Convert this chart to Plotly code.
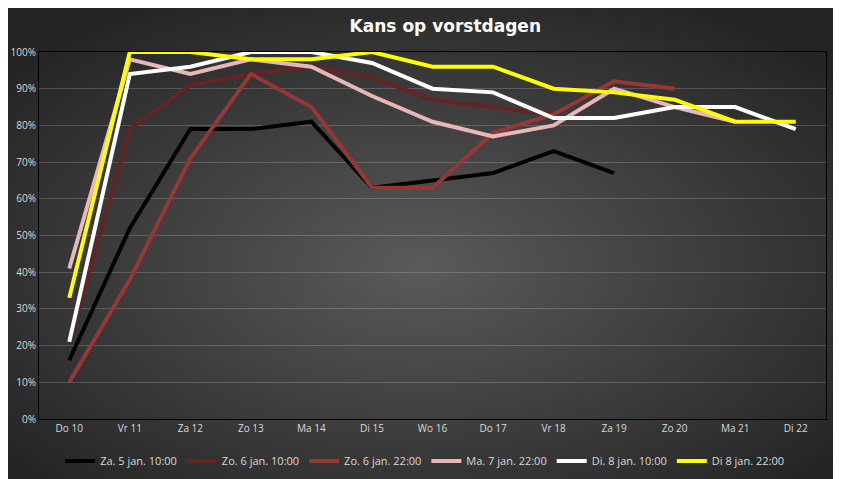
import base64
import plotly.graph_objs as go

# data
days = ["Do 10", "Vr 11", "Za 12", "Zo 13", "Ma 14", "Di 15", "Wo 16",
        "Do 17", "Vr 18", "Za 19", "Zo 20", "Ma 21", "Di 22"]

za5_1000 = [0.16, 0.52, 0.79, 0.79, 0.81, 0.63, 0.65, 0.67, 0.73, 0.67, None, None, None]
zo6_1000 = [0.21, 0.79, 0.91, 0.94, 0.96, 0.93, 0.87, 0.85, 0.83, 0.92, 0.90, None, None]
zo6_2200 = [0.10, 0.38, 0.71, 0.94, 0.85, 0.63, 0.63, 0.78, 0.83, 0.92, 0.90, None, None]
ma7_2200 = [0.41, 0.98, 0.94, 0.98, 0.96, 0.88, 0.81, 0.77, 0.80, 0.90, 0.85, 0.81, None]
di8_1000 = [0.21, 0.94, 0.96, 1.00, 1.00, 0.97, 0.90, 0.89, 0.82, 0.82, 0.85, 0.85, 0.79]
di8_2200 = [0.33, 1.00, 1.00, 0.98, 0.98, 1.00, 0.96, 0.96, 0.90, 0.89, 0.87, 0.81, 0.81]

series = [
    ("Za. 5 jan. 10:00", za5_1000, "#000000"),
    ("Zo. 6 jan. 10:00", zo6_1000, "#632523"),
    ("Zo. 6 jan. 22:00", zo6_2200, "#953735"),
    ("Ma. 7 jan. 22:00", ma7_2200, "#E6B9B8"),
    ("Di. 8 jan. 10:00", di8_1000, "#FFFFFF"),
    ("Di 8 jan. 22:00", di8_2200, "#FFFF00"),
]

fig = go.Figure()
for name, values, color in series:
    fig.add_trace(go.Scatter(x=days, y=values, name=name, mode="lines",
                             line=dict(color=color, width=4)))

# dark radial gradient like the excel chart style
svg = ('<svg xmlns="http://www.w3.org/2000/svg" width="841" height="479">'
       '<defs><radialGradient id="g" cx="49%" cy="54%" r="65%">'
       '<stop offset="0" stop-color="#5a5a5a"/>'
       '<stop offset="1" stop-color="#232323"/></radialGradient></defs>'
       '<rect width="841" height="479" fill="url(#g)"/></svg>')
bg = "data:image/svg+xml;base64," + base64.b64encode(svg.encode()).decode()

# page body adds an 8px offset, margins are shifted to compensate
ml, mr, mt, mb = 31, 23, 44, 68
pw, ph = 841 - ml - mr, 479 - mt - mb

fig.update_layout(
    width=841, height=479,
    margin=dict(l=ml, r=mr, t=mt, b=mb),
    paper_bgcolor="#333333",
    plot_bgcolor="rgba(0,0,0,0)",
    font=dict(family="Open Sans", size=10, color="#d9d9d9"),
    title=dict(text="<b>Kans op vorstdagen</b>", x=0.52, xanchor="center",
               y=0.962, yanchor="middle",
               font=dict(family="DejaVu Sans", size=17, color="#ffffff")),
    images=[dict(source=bg, xref="paper", yref="paper",
                 x=-ml / pw, y=1 + mt / ph, sizex=841 / pw, sizey=479 / ph,
                 xanchor="left", yanchor="top", sizing="stretch",
                 layer="below")],
    xaxis=dict(type="category", range=[-0.5, 12.5], showgrid=False,
               showline=True, linecolor="#000000", linewidth=1, mirror=True,
               ticks="", automargin=False,
               tickfont=dict(size=10, color="#d9d9d9")),
    yaxis=dict(range=[0, 1], dtick=0.1, tickformat=".0%",
               showgrid=True, gridcolor="rgba(255,255,255,0.18)", gridwidth=1,
               showline=True, linecolor="#000000", linewidth=1, mirror=True,
               zeroline=False, ticks="", automargin=False,
               tickfont=dict(size=10, color="#d9d9d9")),
    legend=dict(orientation="h", x=0.49, xanchor="center",
                yref="container", y=1 - 453 / 479, yanchor="middle",
                bgcolor="rgba(0,0,0,0)",
                font=dict(size=11, color="#d9d9d9"), itemwidth=30),
    showlegend=True,
)

fig.write_html("out.html")
